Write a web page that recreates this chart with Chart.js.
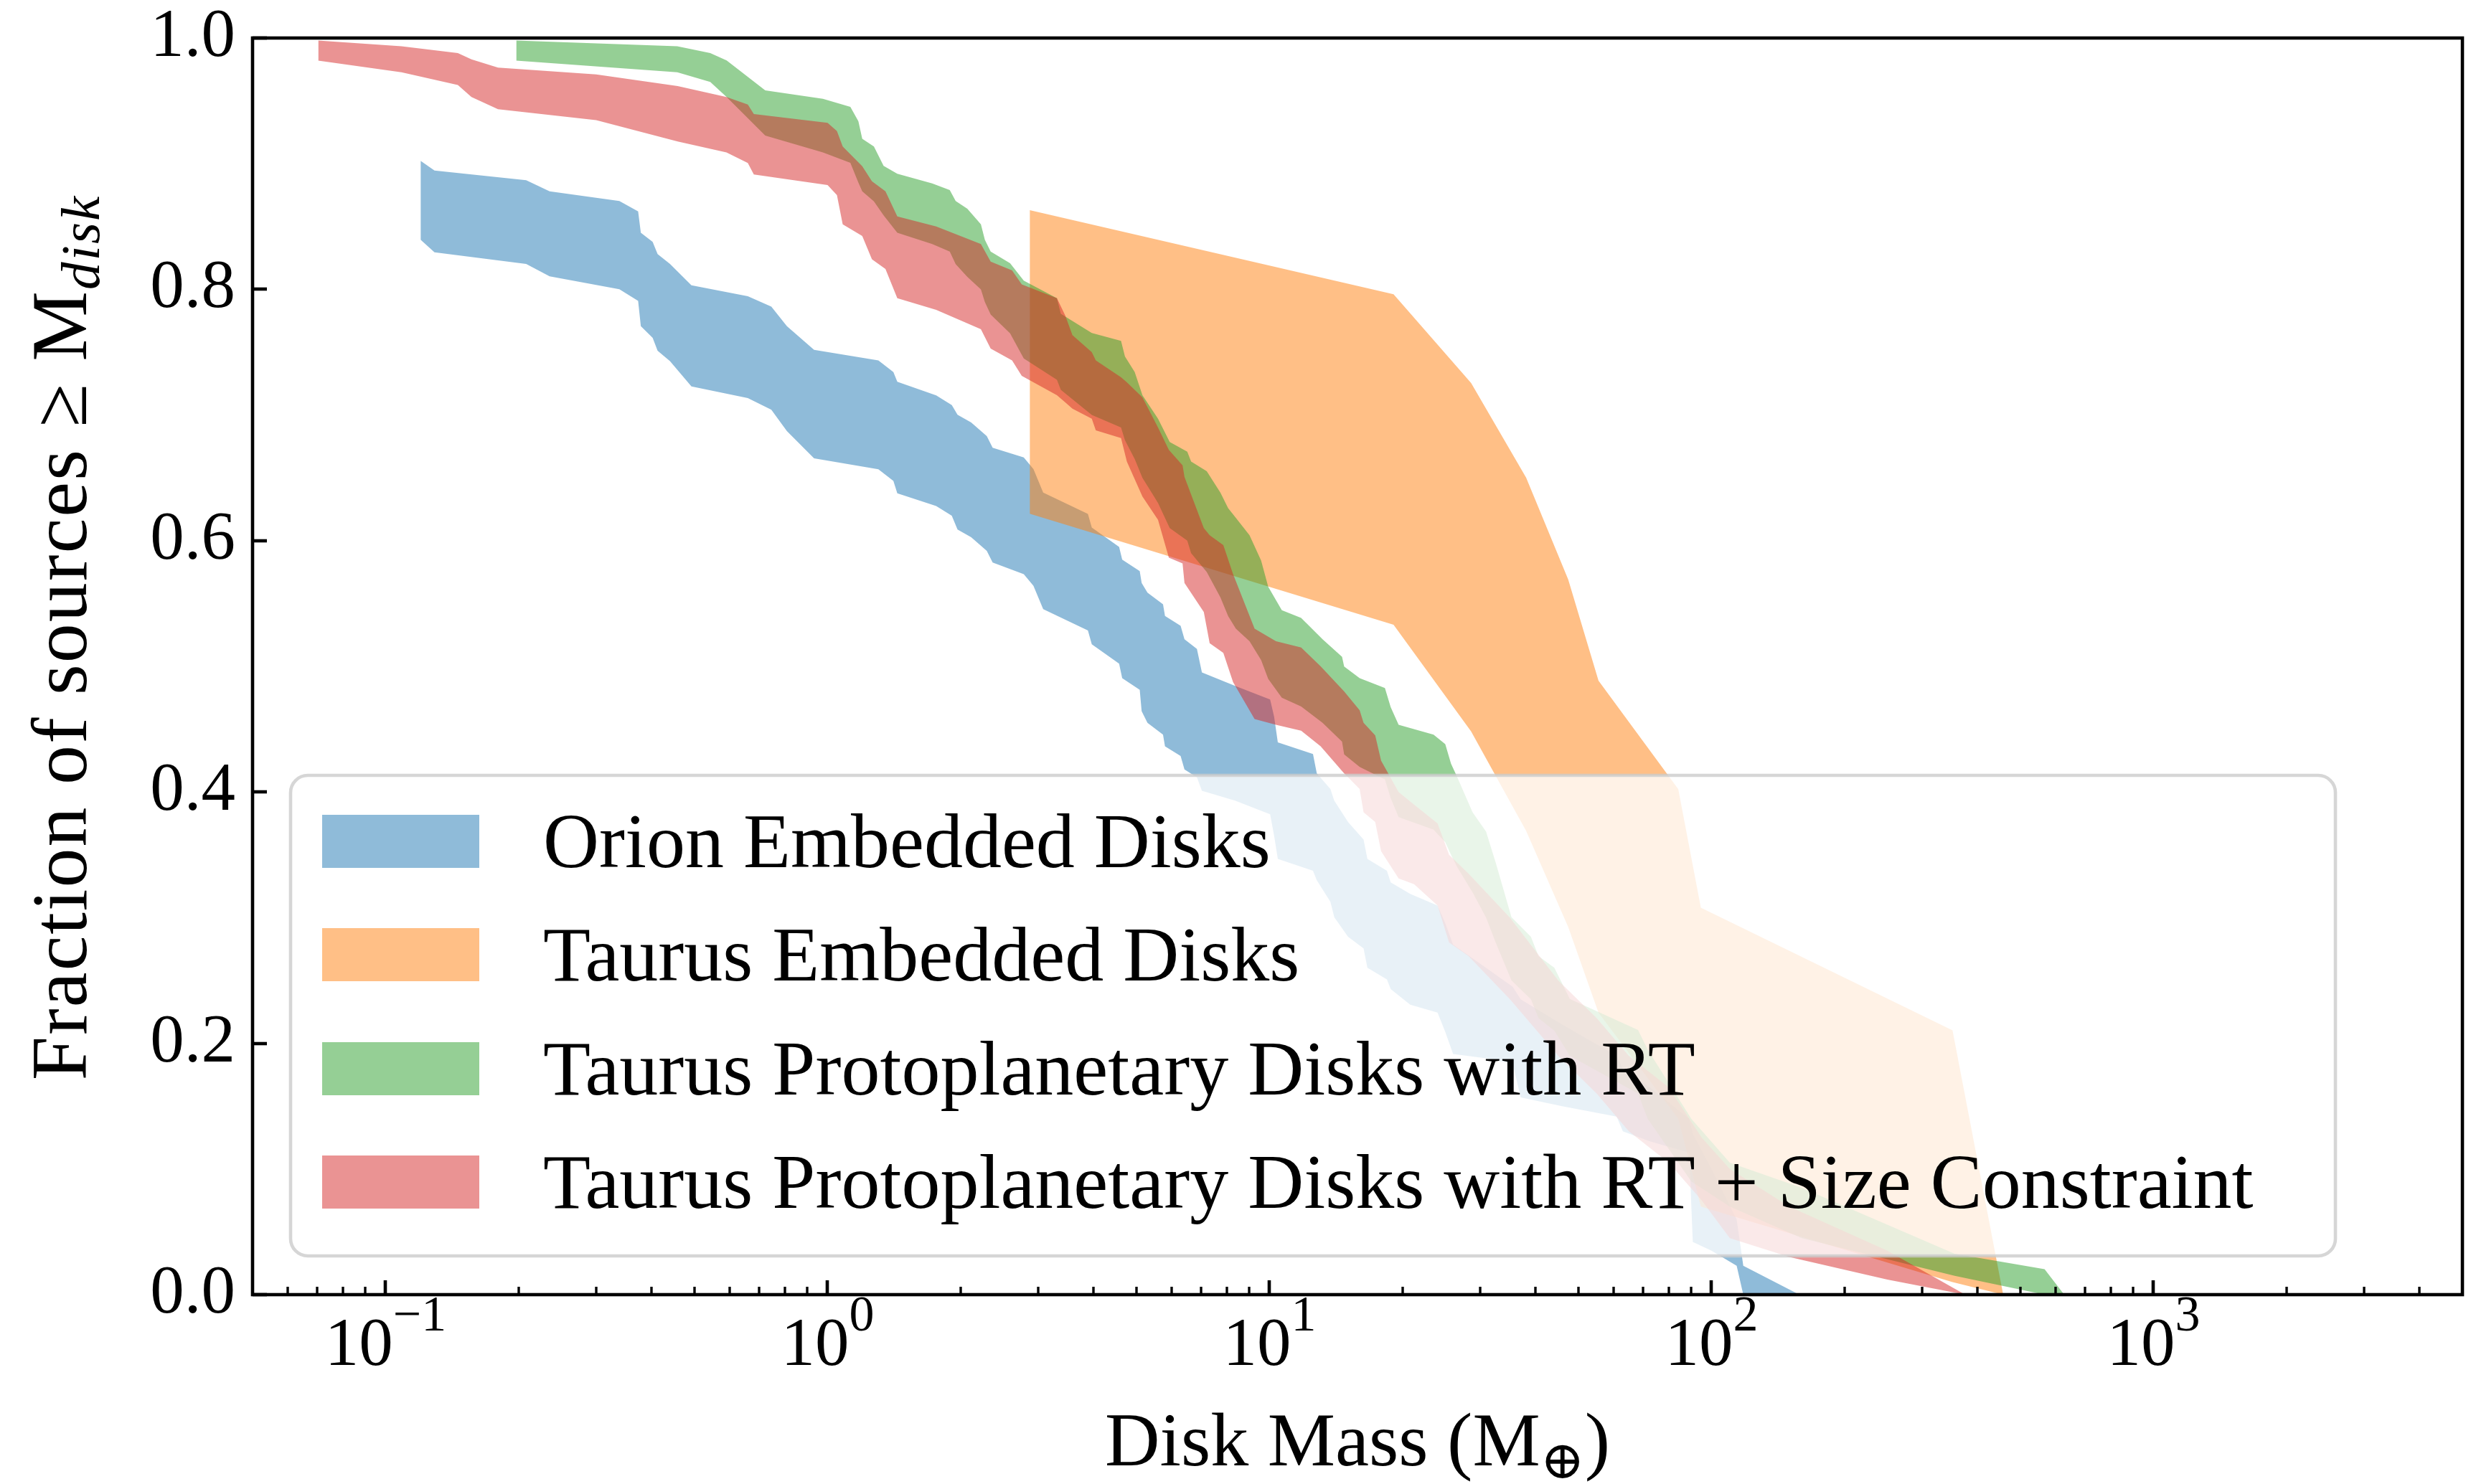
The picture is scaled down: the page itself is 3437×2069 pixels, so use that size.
<!DOCTYPE html>
<html>
<head>
<meta charset="utf-8">
<script src="https://cdn.jsdelivr.net/npm/chart.js@4.4.0/dist/chart.umd.min.js"></script>
<style>
  html, body { margin: 0; padding: 0; background: #fff; }
  canvas { display: block; }
</style>
</head>
<body>
<canvas id="massChart" width="3437" height="2069"></canvas>
<script>
// Cumulative disk mass distributions. Each population is a band between a
// lower and an upper curve that share the same mass grid (Earth masses).

const orionMass = [0.120, 0.129, 0.208, 0.235, 0.338, 0.3727, 0.378, 0.402, 0.4125, 0.440,
  0.492, 0.660, 0.746, 0.809, 0.932, 1.303, 1.409, 1.438, 1.761, 1.910,
  1.968, 2.113, 2.292, 2.363, 2.779, 2.923, 3.075, 3.882, 3.961, 4.567,
  4.641, 5.085, 5.136, 5.294, 5.741, 5.800, 6.292, 6.420, 6.85, 7.03,
  8.356, 10.03, 10.24, 10.44, 12.54, 12.79, 13.73, 14.01, 15.05, 16.32,
  16.65, 18.43, 18.80, 20.81, 23.99, 24.98, 26.02, 30.92, 35.5, 37.0,
  45.9, 61.0, 63.0, 72.5, 89.0, 90.7, 100, 114, 118, 158];
const orionLow = [0.8394, 0.8295, 0.8202, 0.8103, 0.8001, 0.7908, 0.7707, 0.7614, 0.7512, 0.7429,
  0.7228, 0.7135, 0.7042, 0.6872, 0.6655, 0.6568, 0.6476, 0.6377, 0.6275, 0.6198,
  0.6089, 0.6027, 0.5919, 0.5826, 0.5733, 0.5640, 0.5455, 0.5285, 0.5176, 0.5022,
  0.4906, 0.4813, 0.4643, 0.4550, 0.4457, 0.4364, 0.4287, 0.4179, 0.4117, 0.4009,
  0.3931, 0.3823, 0.3653, 0.3467, 0.3374, 0.3297, 0.3127, 0.3003, 0.2848, 0.2755,
  0.2601, 0.2508, 0.2431, 0.2307, 0.2245, 0.2091, 0.1915, 0.188, 0.184, 0.157,
  0.150, 0.1417, 0.130, 0.122, 0.113, 0.042, 0.035, 0.023, 0.0, 0.0];
const orionHigh = [0.9022, 0.8945, 0.8868, 0.8780, 0.8703, 0.8620, 0.8450, 0.8378, 0.8280, 0.8202,
  0.8032, 0.7945, 0.7862, 0.7707, 0.7518, 0.7435, 0.7342, 0.7265, 0.7156, 0.7079,
  0.7002, 0.6940, 0.6832, 0.6739, 0.6662, 0.6569, 0.6383, 0.6213, 0.6104, 0.5950,
  0.5849, 0.5757, 0.5664, 0.5586, 0.5494, 0.5401, 0.5323, 0.5215, 0.5138, 0.4952,
  0.4844, 0.4736, 0.4600, 0.4395, 0.4302, 0.4148, 0.4024, 0.3931, 0.3761, 0.3622,
  0.3467, 0.3374, 0.3281, 0.3189, 0.3096, 0.2957, 0.2786, 0.260, 0.245, 0.235,
  0.215, 0.190, 0.180, 0.165, 0.140, 0.128, 0.100, 0.060, 0.023, 0.0];

const taurusEmbMass = [2.867, 19.08, 28.58, 38.07, 47.4, 55.5, 84.1, 94.6, 351, 457];
const taurusEmbLow = [0.6215, 0.5331, 0.4482, 0.3690, 0.2925, 0.2243, 0.140, 0.070, 0.010, 0.0];
const taurusEmbHigh = [0.8630, 0.7961, 0.7255, 0.6501, 0.5690, 0.4886, 0.4022, 0.3079, 0.2104, 0.0];

const taurusRtMass = [0.1975, 0.457, 0.5427, 0.591, 0.7227, 0.976, 1.126, 1.174, 1.198, 1.273,
  1.339, 1.438, 1.725, 1.89, 1.949, 2.071, 2.223, 2.269, 2.339, 2.588,
  2.779, 3.303, 3.371, 3.961, 4.613, 4.708, 4.954, 5.157, 5.372, 5.593,
  5.945, 6.514, 6.646, 7.21, 7.74, 8.06, 8.39, 9.01, 9.57, 9.93,
  10.66, 11.79, 13.18, 14.59, 14.75, 15.99, 18.24, 18.80, 19.59, 23.5,
  24.98, 25.74, 26.6, 28.8, 30.9, 32.5, 35.27, 39.03, 40.6, 44.1,
  47.8, 68.2, 71.7, 90, 110, 160, 355, 567, 628];
const taurusRtLow = [0.982, 0.9727, 0.965, 0.953, 0.9224, 0.909, 0.9007, 0.885, 0.878, 0.870,
  0.8589, 0.845, 0.836, 0.830, 0.820, 0.810, 0.800, 0.790, 0.780, 0.765,
  0.745, 0.728, 0.720, 0.700, 0.690, 0.680, 0.665, 0.650, 0.640, 0.630,
  0.610, 0.600, 0.590, 0.575, 0.555, 0.540, 0.530, 0.520, 0.505, 0.490,
  0.475, 0.468, 0.455, 0.440, 0.430, 0.420, 0.410, 0.395, 0.380, 0.370,
  0.360, 0.350, 0.340, 0.320, 0.300, 0.280, 0.250, 0.235, 0.220, 0.210,
  0.190, 0.160, 0.140, 0.090, 0.070, 0.045, 0.015, 0.0, 0.0];
const taurusRtHigh = [0.998, 0.9935, 0.988, 0.9822, 0.9583, 0.9516, 0.9452, 0.9338, 0.9198, 0.9137,
  0.8982, 0.892, 0.8843, 0.879, 0.8703, 0.8642, 0.8518, 0.8394, 0.8301, 0.8208,
  0.8069, 0.793, 0.7806, 0.7652, 0.759, 0.7466, 0.7342, 0.7157, 0.7064, 0.6971,
  0.6785, 0.6708, 0.663, 0.6553, 0.6383, 0.6259, 0.6182, 0.6043, 0.5842, 0.5633,
  0.5447, 0.5385, 0.5215, 0.5076, 0.4999, 0.4906, 0.4828, 0.4674, 0.4535, 0.4457,
  0.438, 0.4225, 0.4117, 0.3838, 0.3684, 0.3436, 0.3003, 0.2848, 0.2694, 0.2601,
  0.2353, 0.2106, 0.1951, 0.140, 0.105, 0.085, 0.0325, 0.0202, 0.0];

const taurusSizeMass = [0.0704, 0.1086, 0.1457, 0.1564, 0.1796, 0.2995, 0.458, 0.5905, 0.66, 0.681,
  1.0, 1.05, 1.082, 1.198, 1.26, 1.352, 1.438, 1.761, 2.223, 2.339,
  2.615, 2.75, 3.303, 3.45, 3.581, 3.961, 4.045, 4.613, 4.755, 5.157,
  5.593, 5.918, 6.356, 6.42, 7.10, 7.32, 7.86, 8.27, 9.25, 10.34,
  11.79, 13.05, 14.75, 15.99, 16.32, 17.34, 17.88, 19.59, 21.23, 24.0,
  25.48, 28.2, 35, 45, 55, 65, 80, 95, 110, 150,
  250, 375];
const taurusSizeLow = [0.982, 0.9727, 0.9626, 0.953, 0.9434, 0.9347, 0.9177, 0.909, 0.9006, 0.8914,
  0.883, 0.875, 0.8518, 0.8425, 0.8239, 0.8162, 0.793, 0.7837, 0.7682, 0.7528,
  0.7435, 0.7311, 0.7157, 0.710, 0.705, 0.6971, 0.6878, 0.6816, 0.663, 0.6352,
  0.6166, 0.5865, 0.5819, 0.5664, 0.5432, 0.5184, 0.5107, 0.4875, 0.4581, 0.4535,
  0.4488, 0.4364, 0.4148, 0.4024, 0.3838, 0.3761, 0.3529, 0.3312, 0.3266, 0.3096,
  0.2802, 0.2694, 0.235, 0.190, 0.160, 0.130, 0.105, 0.075, 0.045, 0.030,
  0.012, 0.0];
const taurusSizeHigh = [0.998, 0.9935, 0.988, 0.983, 0.9765, 0.971, 0.9617, 0.953, 0.947, 0.9395,
  0.9325, 0.926, 0.9137, 0.898, 0.886, 0.878, 0.858, 0.850, 0.836, 0.822,
  0.815, 0.804, 0.793, 0.7791, 0.7636, 0.750, 0.7435, 0.730, 0.726, 0.7141,
  0.690, 0.6723, 0.660, 0.6507, 0.610, 0.6043, 0.5965, 0.5733, 0.530, 0.520,
  0.515, 0.500, 0.480, 0.465, 0.455, 0.445, 0.425, 0.400, 0.390, 0.375,
  0.350, 0.335, 0.300, 0.250, 0.220, 0.190, 0.165, 0.125, 0.100, 0.070,
  0.035, 0.0];

const bandLabels = [
  'Orion Embedded Disks',
  'Taurus Embedded Disks',
  'Taurus Protoplanetary Disks with RT',
  'Taurus Protoplanetary Disks with RT + Size Constraint'
];
const bandColors = [
  'rgba(31, 119, 180, 0.5)',
  'rgba(255, 127, 14, 0.5)',
  'rgba(44, 160, 44, 0.5)',
  'rgba(214, 39, 40, 0.5)'
];

// axis ticks
const yTicks = [0, 0.2, 0.4, 0.6, 0.8, 1.0];
const xDecades = [0.1, 1, 10, 100, 1000];
const xDecadeExponents = ['\u22121', '0', '1', '2', '3'];

const SERIF = '"Liberation Serif", "DejaVu Serif", serif';

function toPoints(mass, frac) {
  return mass.map((m, i) => ({ x: m, y: frac[i] }));
}

// lower curve (no fill) followed by the upper curve filled down to it
function band(label, mass, low, high, color, order) {
  const common = {
    borderColor: 'rgba(0,0,0,0)',
    borderWidth: 0,
    pointRadius: 0,
    pointHoverRadius: 0,
    tension: 0
  };
  return [
    Object.assign({}, common, { label: label + ' (lower)', data: toPoints(mass, low), fill: false, order: order + 1 }),
    Object.assign({}, common, { label: label, data: toPoints(mass, high), fill: '-1', backgroundColor: color, order: order })
  ];
}

function drawParts(ctx, parts, x, y, spacing) {
  ctx.letterSpacing = (spacing || 0) + 'px';
  let total = 0;
  parts.forEach(p => {
    ctx.font = (p.italic ? 'italic ' : '') + p.size + 'px ' + SERIF;
    p.w = ctx.measureText(p.text).width;
    total += p.w;
  });
  let cx = x - total / 2;
  parts.forEach(p => {
    ctx.font = (p.italic ? 'italic ' : '') + p.size + 'px ' + SERIF;
    ctx.fillText(p.text, cx, y + (p.dy || 0));
    cx += p.w;
  });
  ctx.letterSpacing = '0px';
}

// inward ticks, the box around the axes, log labels and axis titles
const axesFrame = {
  id: 'axesFrame',
  afterDraw(chart) {
    const ctx = chart.ctx;
    const a = chart.chartArea;
    const xs = chart.scales.x;
    const ys = chart.scales.y;
    ctx.save();
    ctx.strokeStyle = '#000';
    ctx.fillStyle = '#000';
    ctx.lineCap = 'butt';

    ctx.lineWidth = 3.4;
    for (let e = -2; e <= 3; e++) {
      for (let d = 2; d <= 9; d++) {
        const v = d * Math.pow(10, e);
        if (v <= xs.min || v >= xs.max) continue;
        const px = Math.round(xs.getPixelForValue(v));
        ctx.beginPath();
        ctx.moveTo(px, a.bottom);
        ctx.lineTo(px, a.bottom - 11);
        ctx.stroke();
      }
    }
    ctx.lineWidth = 4.6;
    xDecades.forEach(v => {
      const px = Math.round(xs.getPixelForValue(v));
      ctx.beginPath();
      ctx.moveTo(px, a.bottom);
      ctx.lineTo(px, a.bottom - 20);
      ctx.stroke();
    });
    yTicks.forEach(v => {
      const py = Math.round(ys.getPixelForValue(v));
      ctx.beginPath();
      ctx.moveTo(a.left, py);
      ctx.lineTo(a.left + 20, py);
      ctx.stroke();
    });
    ctx.strokeRect(a.left, a.top, a.right - a.left, a.bottom - a.top);

    ctx.textBaseline = 'alphabetic';
    xDecades.forEach((v, i) => {
      const px = xs.getPixelForValue(v);
      drawParts(ctx, [
        { text: '10', size: 95 },
        { text: xDecadeExponents[i], size: 70, dy: -48 }
      ], px, 1903);
    });

    drawParts(ctx, [
      { text: 'Disk Mass (M', size: 106 },
      { text: '\u2295', size: 74, dy: 18 },
      { text: ')', size: 106 }
    ], (a.left + a.right) / 2, 2043);

    ctx.translate(120, (a.top + a.bottom) / 2 - 40);
    ctx.rotate(-Math.PI / 2);
    drawParts(ctx, [
      { text: 'Fraction of sources \u2265 M', size: 110 },
      { text: 'disk', size: 77, italic: true, dy: 18 }
    ], 0, 0, 2);
    ctx.restore();
  }
};

// legend box drawn on top of the bands
const bandLegend = {
  id: 'bandLegend',
  afterDraw(chart) {
    const ctx = chart.ctx;
    const box = { x: 405, y: 1081, w: 2850, h: 670, r: 24 };
    const rowY = [1173, 1331, 1490, 1648];
    ctx.save();
    ctx.beginPath();
    ctx.roundRect(box.x, box.y, box.w, box.h, box.r);
    ctx.fillStyle = 'rgba(255,255,255,0.8)';
    ctx.fill();
    ctx.lineWidth = 4.6;
    ctx.strokeStyle = 'rgba(204,204,204,0.8)';
    ctx.stroke();

    ctx.font = '108px ' + SERIF;
    ctx.textBaseline = 'alphabetic';
    bandLabels.forEach((label, i) => {
      ctx.fillStyle = bandColors[i];
      ctx.fillRect(449, rowY[i] - 37, 219, 74);
      ctx.fillStyle = '#000';
      ctx.fillText(label, 757, rowY[i] + 36);
    });
    ctx.restore();
  }
};

const datasets = [].concat(
  band(bandLabels[0], orionMass, orionLow, orionHigh, bandColors[0], 7),
  band(bandLabels[1], taurusEmbMass, taurusEmbLow, taurusEmbHigh, bandColors[1], 5),
  band(bandLabels[2], taurusRtMass, taurusRtLow, taurusRtHigh, bandColors[2], 3),
  band(bandLabels[3], taurusSizeMass, taurusSizeLow, taurusSizeHigh, bandColors[3], 1)
);

const ctx = document.getElementById('massChart').getContext('2d');
const massChart = new Chart(ctx, {
  type: 'line',
  data: { datasets: datasets },
  options: {
    responsive: false,
    animation: false,
    devicePixelRatio: 1,
    layout: { padding: { top: 53, right: 5, left: 0, bottom: 0 } },
    plugins: {
      legend: { display: false },
      tooltip: { enabled: false },
      filler: { propagate: false }
    },
    scales: {
      x: {
        type: 'logarithmic',
        min: 0.05,
        max: 5000,
        grid: { display: false, drawTicks: false },
        border: { display: false },
        ticks: { display: false },
        afterFit: s => { s.height = 264; s.paddingLeft = 0; s.paddingRight = 0; }
      },
      y: {
        type: 'linear',
        min: 0,
        max: 1,
        grid: { display: false, drawTicks: false },
        border: { display: false },
        afterBuildTicks: s => { s.ticks = yTicks.map(v => ({ value: v })); },
        ticks: {
          padding: 24,
          color: '#000',
          font: { family: SERIF, size: 95 },
          callback: v => Number(v).toFixed(1)
        },
        afterFit: s => { s.width = 352; s.paddingTop = 0; s.paddingBottom = 0; }
      }
    }
  },
  plugins: [axesFrame, bandLegend]
});
</script>
</body>
</html>
